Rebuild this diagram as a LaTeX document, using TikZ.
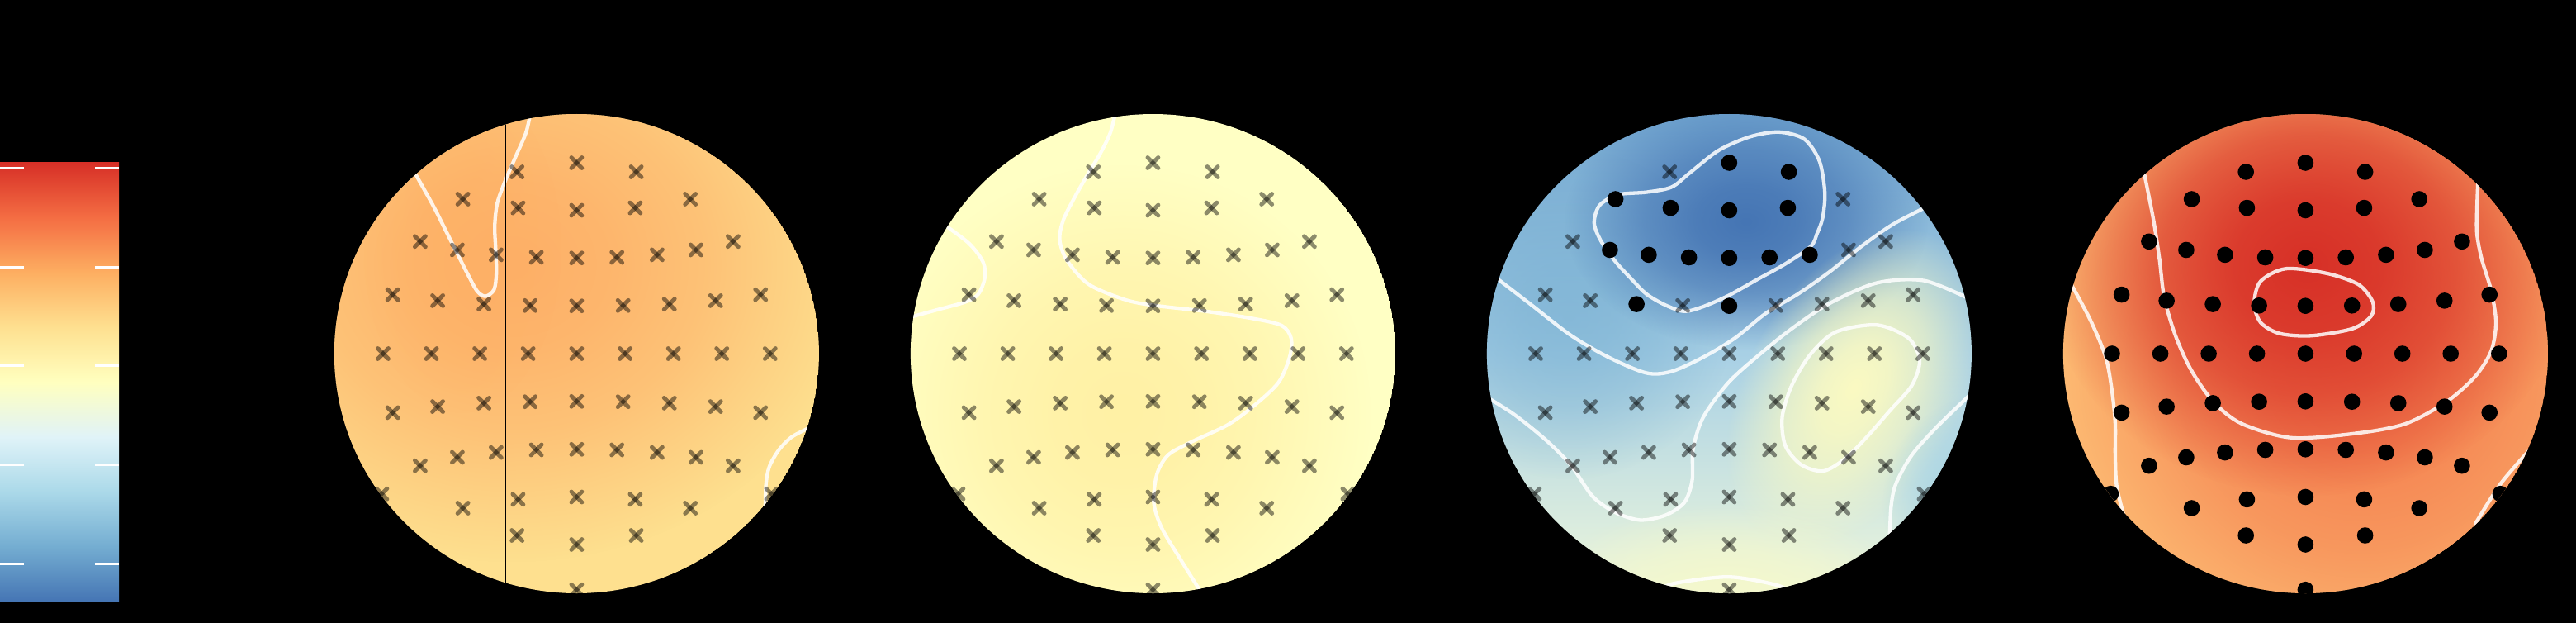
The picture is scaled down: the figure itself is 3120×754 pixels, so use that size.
\documentclass[tikz,border=0pt]{standalone}
\usetikzlibrary{fadings}
\definecolor{cb0}{HTML}{4575B4}
\definecolor{cb1}{HTML}{74ADD1}
\definecolor{cb2}{HTML}{ABD9E9}
\definecolor{cb3}{HTML}{E0F3F8}
\definecolor{cb4}{HTML}{FFFFBF}
\definecolor{cb5}{HTML}{FEE090}
\definecolor{cb6}{HTML}{FDAE61}
\definecolor{cb7}{HTML}{F46D43}
\definecolor{cb8}{HTML}{D73027}
\definecolor{onebase}{HTML}{FEE08F}
\definecolor{oneblob}{HTML}{FDB068}
\definecolor{twobase}{HTML}{FFFFC4}
\definecolor{twoblob}{HTML}{FFF1A5}
\definecolor{thrtop}{HTML}{72A6D0}
\definecolor{thrmid}{HTML}{A8D0E5}
\definecolor{thrbot}{HTML}{EEF7DC}
\definecolor{thrylw}{HTML}{FBFAC2}
\definecolor{thrpyl}{HTML}{F4F8CC}
\definecolor{fourbase}{HTML}{FEC378}
\definecolor{fouror}{HTML}{F47D4E}
\pgfdeclareradialshading{blobsh}{\pgfpointorigin}{color(0bp)=(white); color(7bp)=(white!88!black); color(14bp)=(white!62!black); color(20bp)=(white!28!black); color(25bp)=(black); color(50bp)=(black)}
\pgfdeclarefading{blobf}{\pgfuseshading{blobsh}}
\pgfdeclareverticalshading{cbar}{100bp}{color(0bp)=(cb0); color(25bp)=(cb0); color(31.25bp)=(cb1); color(37.5bp)=(cb2); color(43.75bp)=(cb3); color(50bp)=(cb4); color(56.25bp)=(cb5); color(62.5bp)=(cb6); color(68.75bp)=(cb7); color(75bp)=(cb8); color(100bp)=(cb8)}
\tikzset{
  blob/.style={fill=#1, path fading=blobf, fit fading=true},
  contour/.style={draw=white, draw opacity=0.85, line width=4.3, line cap=round, line join=round},
  xarm/.style={draw=black, draw opacity=0.45, line width=5, line cap=round},
  sigdot/.style={fill=black},
  midline/.style={draw=black, line width=1.3},
  cbtick/.style={draw=white, line width=3},
  xmk/.pic={\draw[xarm] (-6.4,-6.4)--(6.4,6.4); \draw[xarm] (-6.4,6.4)--(6.4,-6.4);},
  head/.style={x radius=293.5, y radius=290}
}
\def\elecsHigh{-72.2/-220,0/-231,72.2/-220,-137.8/-187,-71/-176.4,0/-173.5,71/-176.4,137.8/-187,-189.5/-135.7,-144.5/-125.5,-97.5/-119.6,-48.8/-116.5,0/-115.8,48.8/-116.5,97.5/-119.6,144.5/-125.5,189.5/-135.7,-222.8/-71.4,-168.3/-64.1,-112.3/-59.9,-56.3/-58.2,0/-57.8,56.3/-58.2,112.3/-59.9,168.3/-64.1,222.8/-71.4}
\def\elecsLow{-234.4/0,-175.8/0,-117.3/0,-58.8/0,0/0,58.8/0,117.3/0,175.8/0,234.4/0,-222.8/71.4,-168.3/64.1,-112.3/59.9,-56.3/58.2,0/57.8,56.3/58.2,112.3/59.9,168.3/64.1,222.8/71.4,-189.5/135.7,-144.5/125.5,-97.5/119.6,-48.8/116.5,0/115.8,48.8/116.5,97.5/119.6,144.5/125.5,189.5/135.7,-137.8/187,-71/176.4,0/173.5,71/176.4,137.8/187,-236/169.7,236/169.7,-72.2/220,0/231,72.2/220,0/285.7}
\def\sigThree{0/-231,72.2/-220,-137.8/-187,-71/-176.4,0/-173.5,71/-176.4,-144.5/-125.5,-97.5/-119.6,-48.8/-116.5,0/-115.8,48.8/-116.5,97.5/-119.6,-112.3/-59.9,0/-57.8}
\def\nonsigThreeHigh{-72.2/-220,137.8/-187,-189.5/-135.7,144.5/-125.5,189.5/-135.7,-222.8/-71.4,-168.3/-64.1,-56.3/-58.2,56.3/-58.2,112.3/-59.9,168.3/-64.1,222.8/-71.4}
\begin{document}
\begin{tikzpicture}[x=1pt,y=-1pt]
\fill[black] (0,0) rectangle (3120,754);
\useasboundingbox (0,0) rectangle (3120,754);

% colour bar
\shade[shading=cbar] (0,197) rectangle (144,727.8);
\foreach \ty in {203.2,323,442.8,562.6,682.4}{
  \draw[cbtick] (0,\ty) -- (29,\ty);
  \draw[cbtick] (115,\ty) -- (144,\ty);
}

% ---------- map 1 ----------
\begin{scope}
\clip (698.4,428) ellipse[head];
\fill[onebase] (698.4,428) ellipse[head];
\fill[blob=oneblob] (620,320) ellipse[x radius=420, y radius=360];
\fill[blob=cb6, fill opacity=0.35] (560,300) ellipse[x radius=120, y radius=200];
\draw[contour] plot[smooth] coordinates {(643,134) (637.1,160.4) (624.9,188.7) (612.7,217) (602.4,245.4) (599.2,273.7) (600.4,302) (601.2,330.3) (598.4,350.5) (588.2,358.6) (578,352.5) (565.7,330.3) (551.4,302) (539.2,277.7) (524.9,249.4) (500,205)};
\draw[contour] plot[smooth] coordinates {(984,516) (959.6,528.4) (943.3,544.6) (931.8,564.8) (927.8,585) (926.9,609.3) (926.8,625)};
\draw[midline] (612.2,120) -- (612.2,740);
\begin{scope}[shift={(698.4,428)}]
\foreach \dx/\dy in \elecsHigh {\pic at (\dx,\dy) {xmk};}
\foreach \dx/\dy in \elecsLow {\pic at (\dx,\dy) {xmk};}
\end{scope}
\end{scope}

% ---------- map 2 ----------
\begin{scope}
\clip (1396.4,428) ellipse[head];
\fill[twobase] (1396.4,428) ellipse[head];
\fill[blob=twoblob] (1360,500) ellipse[x radius=300, y radius=300];
\draw[contour] plot[smooth] coordinates {(1352,132) (1345,160) (1333,185) (1318,210) (1302,238) (1288,266) (1283.4,290) (1292.2,315) (1318.9,344.3) (1364.9,363.4) (1403.1,370.3) (1460.5,376.8) (1517.9,385.6) (1552.4,394) (1563.8,409.3) (1561.9,432.3) (1548.5,462.9) (1520,490) (1487.3,514) (1441.4,535.6) (1414.6,550.9) (1401.2,573.9) (1397.4,608.3) (1407,638.9) (1429.9,677.2) (1458,722)};
\draw[contour] plot[smooth] coordinates {(1138,268) (1173.5,294.5) (1190.8,317.5) (1192.7,336.6) (1185,355.8) (1169.7,365.3) (1135.3,374.9) (1098,385)};
\begin{scope}[shift={(1396.4,428)}]
\foreach \dx/\dy in \elecsHigh {\pic at (\dx,\dy) {xmk};}
\foreach \dx/\dy in \elecsLow {\pic at (\dx,\dy) {xmk};}
\end{scope}
\end{scope}

% ---------- map 3 ----------
\begin{scope}
\clip (2094.4,428) ellipse[head];
\shade[top color=thrtop, bottom color=thrbot, middle color=thrmid] (2094.4,428) ellipse[head];
\fill[blob=cb1, fill opacity=0.6] (1900,380) ellipse[x radius=200, y radius=200];
\fill[blob=cb0] (2115,268) ellipse[x radius=220, y radius=155];
\begin{scope}[transform canvas={rotate around={-30:(2245,470)}}]
\fill[blob=thrylw] (2245,470) ellipse[x radius=130, y radius=210];
\end{scope}
\fill[blob=thrpyl] (2090,730) ellipse[x radius=230, y radius=120];
\fill[blob=cb2!85!cb1] (2400,610) ellipse[x radius=120, y radius=130];
\draw[contour] plot[smooth cycle] coordinates {(1994,232.6) (2024.6,226.4) (2047.6,208.4) (2082,181.7) (2120.3,165.2) (2154.7,159.8) (2185.3,168.3) (2203.7,195.1) (2210.2,233.3) (2207.5,263.9) (2200.6,283.1) (2193,298.4) (2162.3,319.4) (2127.9,338.5) (2093.5,357.7) (2062.9,371.1) (2039.9,376.8) (2017,369.2) (1994,355.8) (1974.9,336.6) (1955.7,315.6) (1938.5,290.7) (1930.8,269.7) (1937.3,248.6) (1959.5,235.6)};
\draw[contour] plot[smooth] coordinates {(1804,330) (1852.4,367.2) (1902.1,405.5) (1948.1,432.3) (1994,451.4) (2024.6,449.5) (2062.9,432.3) (2101.1,409.3) (2139.4,378.7) (2177.7,355.8) (2215.9,329) (2254.2,298.4) (2292.5,271.6) (2336,249)};
\draw[contour] plot[smooth] coordinates {(2388,363) (2330.7,339.7) (2273.3,342.4) (2215.9,367.2) (2170,397.9) (2131.7,428.5) (2093.5,462.9) (2062.9,505) (2050.6,543.3) (2049.5,581.5) (2039.9,608.3) (2017,623.6) (1986.3,629.4) (1955.7,619.8) (1928.9,600.7) (1902.1,562.4) (1871.5,531.8) (1833.3,501.2) (1798,479)};
\draw[contour] plot[smooth cycle] coordinates {(2273.3,393.3) (2311.6,409.3) (2325,436.1) (2315.4,466.7) (2288.6,497.4) (2261.8,528) (2235.1,554.8) (2208.3,570.1) (2181.5,562.4) (2162.3,539.4) (2158.5,505) (2170,466.7) (2193,428.5) (2223.6,401.7)};
\draw[contour] plot[smooth] coordinates {(2390,474) (2346,516.5) (2315.4,550.9) (2296.3,585.4) (2290.5,612.1) (2288.6,652)};
\draw[contour] plot[smooth] coordinates {(2005,716) (2028.4,705.9) (2093.5,698.2) (2150.9,707.8) (2172,718)};
\draw[midline] (1993.3,120) -- (1993.3,740);
\begin{scope}[shift={(2094.4,428)}]
\foreach \dx/\dy in \nonsigThreeHigh {\pic at (\dx,\dy) {xmk};}
\foreach \dx/\dy in \elecsLow {\pic at (\dx,\dy) {xmk};}
\foreach \dx/\dy in \sigThree {\fill[sigdot] (\dx,\dy) circle (9.8);}
\end{scope}
\end{scope}

% ---------- map 4 ----------
\begin{scope}
\clip (2792.4,428) ellipse[head];
\fill[fourbase] (2792.4,428) ellipse[head];
\fill[blob=fouror] (2860,440) ellipse[x radius=400, y radius=400];
\fill[blob=cb8] (2795,320) ellipse[x radius=320, y radius=280];
\draw[contour] plot[smooth cycle] coordinates {(2768.5,325.2) (2818.3,330.9) (2856.5,344.3) (2873.7,365.3) (2871.8,382.6) (2848.9,397.9) (2799.1,406.3) (2760.9,403.6) (2737.9,390.2) (2730.2,367.2) (2737.9,340.5)};
\draw[contour] plot[smooth] coordinates {(2595,200) (2607.8,263.9) (2615.5,313.7) (2621.2,359.6) (2634.6,405.5) (2653.7,447.6) (2680.5,485.9) (2714.9,512.7) (2776.2,529.9) (2856.5,524.1) (2913.9,512.7) (2963.7,485.9) (2998.1,455.3) (3017.3,424.6) (3023,390.2) (3017.3,351.9) (3005.8,313.7) (3000,283.1) (3000,252.5) (3001.6,212)};
\draw[contour] plot[smooth] coordinates {(2504,336) (2531.3,386.4) (2550.4,432.3) (2558.1,474.4) (2561.9,512.7) (2561.9,550.9) (2563.8,589.2) (2574,630)};
\draw[contour] plot[smooth] coordinates {(3066,542) (3028.7,585.4) (2998,634)};
\begin{scope}[shift={(2792.4,428)}]
\foreach \dx/\dy in \elecsHigh {\fill[sigdot] (\dx,\dy) circle (9.8);}
\foreach \dx/\dy in \elecsLow {\fill[sigdot] (\dx,\dy) circle (9.8);}
\end{scope}
\end{scope}
\end{tikzpicture}
\end{document}
